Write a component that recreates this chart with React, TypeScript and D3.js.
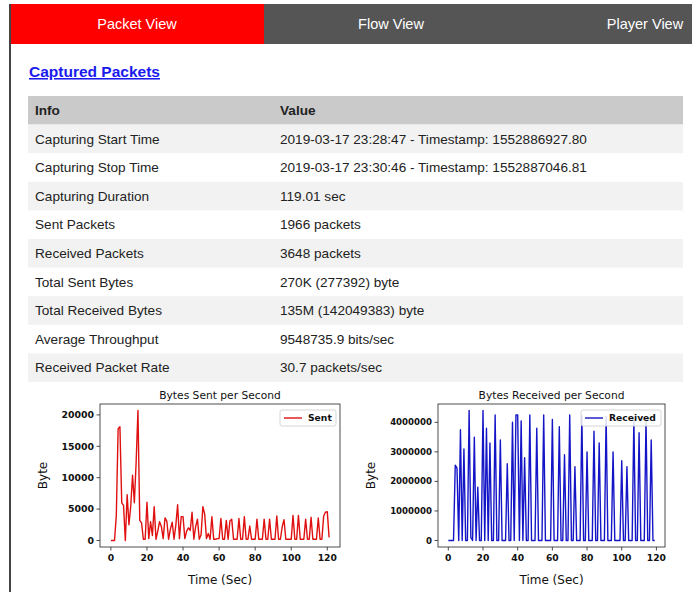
import React from 'react';
import * as d3 from 'd3';

// tab labels and table content
const tabs = ['Packet View', 'Flow View', 'Player View'];
const tableHeader = ['Info', 'Value'];
const infoLabels = [
  'Capturing Start Time',
  'Capturing Stop Time',
  'Capturing Duration',
  'Sent Packets',
  'Received Packets',
  'Total Sent Bytes',
  'Total Received Bytes',
  'Average Throughput',
  'Received Packet Rate',
];
const infoValues = [
  '2019-03-17 23:28:47 - Timestamp: 1552886927.80',
  '2019-03-17 23:30:46 - Timestamp: 1552887046.81',
  '119.01 sec',
  '1966 packets',
  '3648 packets',
  '270K (277392) byte',
  '135M (142049383) byte',
  '9548735.9 bits/sec',
  '30.7 packets/sec',
];

// bytes per second, one value per second starting at t=0
const sentBytes = [
  0, 0, 0, 4000, 17800, 18100, 6000, 5600, 0, 7300,
  2500, 5500, 10400, 6000, 12500, 20700, 3200, 2800, 200, 200,
  6100, 300, 3000, 800, 5400, 200, 1500, 3000, 2200, 300,
  3600, 3100, 200, 1800, 2900, 200, 2400, 5700, 300, 3800,
  3800, 300, 1500, 2000, 1600, 4500, 200, 2200, 3400, 200,
  900, 5400, 4200, 300, 1100, 200, 3800, 200, 200, 300,
  300, 3500, 200, 200, 3200, 200, 3100, 3400, 200, 200,
  200, 3500, 200, 200, 3800, 200, 200, 2300, 200, 200,
  200, 3400, 200, 200, 200, 3400, 200, 200, 3400, 200,
  200, 200, 3900, 200, 200, 2200, 3300, 200, 200, 200,
  200, 4000, 200, 200, 4000, 200, 200, 200, 3400, 200,
  200, 3700, 200, 200, 200, 3600, 200, 200, 3900, 4500,
  4600, 500,
];

const receivedBytes = [
  0, 0, 0, 0, 2550000, 2450000, 0, 3750000, 0, 3100000,
  0, 0, 4400000, 100000, 0, 3500000, 0, 1800000, 0, 0,
  4400000, 0, 3800000, 0, 3300000, 0, 0, 4250000, 0, 0,
  3400000, 0, 0, 0, 2600000, 0, 0, 4000000, 0, 4250000,
  4250000, 0, 4050000, 0, 2800000, 0, 0, 4250000, 0, 0,
  0, 3800000, 0, 0, 0, 4250000, 0, 0, 0, 0,
  4100000, 0, 0, 0, 3850000, 0, 0, 2900000, 0, 0,
  4250000, 0, 0, 2500000, 0, 0, 0, 4250000, 0, 0,
  3000000, 0, 0, 0, 3700000, 0, 0, 3300000, 0, 0,
  0, 4200000, 0, 0, 0, 3000000, 0, 0, 0, 0,
  2700000, 0, 0, 2500000, 0, 0, 0, 4100000, 0, 0,
  3650000, 0, 0, 0, 4100000, 0, 0, 3400000, 0, 0,
];

const timeTicks = [0, 20, 40, 60, 80, 100, 120];
const sentTicks = [0, 5000, 10000, 15000, 20000];
const receivedTicks = [0, 1000000, 2000000, 3000000, 4000000];

const MPL = 'DejaVu Sans, sans-serif';
const WEB = 'Liberation Sans, Arial, sans-serif';

interface ChartProps {
  title: string;
  label: string;
  values: number[];
  yTicks: number[];
  color: string;
  left: number;
  right: number;
  top: number;
  bottom: number;
  yLabelX: number;
  legendW: number;
  yTickSize: number;
}

const LineChart: React.FC<ChartProps> = ({
  title, label, values, yTicks, color, left, right, top, bottom, yLabelX, legendW, yTickSize,
}) => {
  const n = values.length - 1;
  const maxV = d3.max(values) as number;
  const x = d3.scaleLinear().domain([-0.05 * n, n * 1.05]).range([left, right]);
  const y = d3.scaleLinear().domain([-0.05 * maxV, maxV * 1.05]).range([bottom, top]);
  const line = d3.line<number>().x((_, i) => x(i)).y(d => y(d));
  const cx = (left + right) / 2;
  const lx = right - legendW - 4;
  const ly = top + 6;

  return (
    <g fontFamily={MPL}>
      <text x={cx} y={top - 5} textAnchor="middle" fontSize={10.7} fill="#111">{title}</text>
      <path d={line(values) ?? ''} fill="none" stroke={color} strokeWidth={1.4} strokeLinejoin="round" />
      <rect x={left} y={top} width={right - left} height={bottom - top} fill="none" stroke="#222" strokeWidth={0.8} />
      {yTicks.map(t => (
        <g key={t}>
          <line x1={left} x2={left - 3.5} y1={y(t)} y2={y(t)} stroke="#222" strokeWidth={0.8} />
          <text x={left - 6} y={y(t)} dy="0.35em" textAnchor="end" fontSize={yTickSize} fontWeight="bold" fill="#111">{t}</text>
        </g>
      ))}
      {timeTicks.map(t => (
        <g key={t}>
          <line x1={x(t)} x2={x(t)} y1={bottom} y2={bottom + 3.5} stroke="#222" strokeWidth={0.8} />
          <text x={x(t)} y={bottom + 14} textAnchor="middle" fontSize={9.2} fontWeight="bold" fill="#111">{t}</text>
        </g>
      ))}
      <text x={cx} y={bottom + 37} textAnchor="middle" fontSize={12} fill="#111">Time (Sec)</text>
      <text transform={`translate(${yLabelX},${(top + bottom) / 2}) rotate(-90)`} textAnchor="middle" dy="0.35em" fontSize={12} fill="#111">Byte</text>
      <rect x={lx} y={ly} width={legendW} height={16} rx={2} fill="#fff" fillOpacity={0.85} stroke="#ccc" strokeWidth={0.8} />
      <line x1={lx + 4} x2={lx + 22} y1={ly + 8} y2={ly + 8} stroke={color} strokeWidth={1.4} />
      <text x={lx + 28} y={ly + 8} dy="0.35em" fontSize={9.2} fontWeight="bold" fill="#111">{label}</text>
    </g>
  );
};

const App: React.FC = () => {
  const tabW = 254;
  const rowH = 28.6;
  const tableTop = 96;

  return (
    <svg width={692} height={592} style={{ position: 'absolute', left: 0, top: 0 }}>
      <rect width={692} height={592} fill="#fff" />
      {/* tab bar */}
      <rect x={10} y={4} width={682} height={40} fill="#555" />
      {tabs.map((t, i) => (
        <g key={t}>
          {i === 0 && <rect x={10} y={4} width={tabW} height={40} fill="#ff0000" />}
          <text x={10 + tabW * i + tabW / 2} y={24} dy="0.35em" textAnchor="middle" fontFamily={WEB} fontSize={14.5} fill="#fff">{t}</text>
        </g>
      ))}
      <rect x={9} y={4} width={2} height={588} fill="#444" />

      {/* heading */}
      <text x={29} y={77} fontFamily={WEB} fontSize={15.5} fontWeight="bold" fill="#1a1aee" textDecoration="underline">Captured Packets</text>

      {/* table */}
      <g fontFamily={WEB} fontSize={13.6} fill="#222">
        <rect x={28} y={tableTop} width={655} height={rowH} fill="#cacaca" />
        <text x={35} y={tableTop + rowH / 2} dy="0.35em" fontWeight="bold">{tableHeader[0]}</text>
        <text x={280} y={tableTop + rowH / 2} dy="0.35em" fontWeight="bold">{tableHeader[1]}</text>
        {infoLabels.map((lab, i) => {
          const ry = tableTop + rowH * (i + 1);
          return (
            <g key={lab}>
              {i % 2 === 0 && <rect x={28} y={ry} width={655} height={rowH} fill="#f2f2f2" />}
              <text x={35} y={ry + rowH / 2} dy="0.35em">{lab}</text>
              <text x={280} y={ry + rowH / 2} dy="0.35em">{infoValues[i]}</text>
            </g>
          );
        })}
      </g>

      <LineChart
        title="Bytes Sent per Second" label="Sent" values={sentBytes} yTicks={sentTicks}
        color="#e01010" left={100} right={340} top={404} bottom={547} yLabelX={43} legendW={56} yTickSize={9.4}
      />
      <LineChart
        title="Bytes Received per Second" label="Received" values={receivedBytes} yTicks={receivedTicks}
        color="#1515c8" left={438} right={665} top={404} bottom={547} yLabelX={371} legendW={80} yTickSize={8.6}
      />
    </svg>
  );
};

export default App;
